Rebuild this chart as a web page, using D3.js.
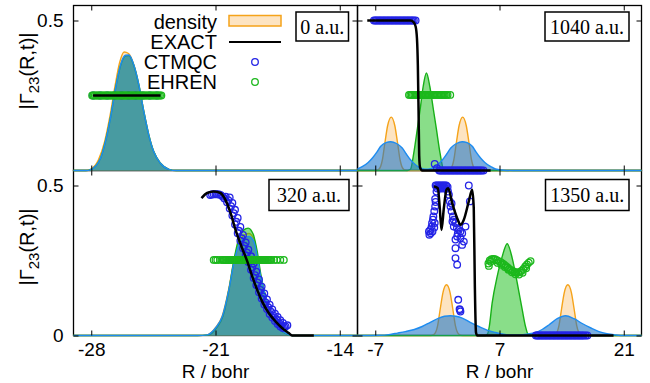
<!DOCTYPE html>
<html><head><meta charset="utf-8">
<script src="https://cdn.jsdelivr.net/npm/d3@7"></script>
<style>body{margin:0;background:#fff}svg{display:block}</style>
</head><body><svg id="c" width="650" height="383"></svg>
<script>
// ---------------- DATA ----------------
const timeLabels = ["0 a.u.", "1040 a.u.", "320 a.u.", "1350 a.u."];
const legendLabels = ["density", "EXACT", "CTMQC", "EHREN"];
const xTicksLeft = [-28, -21, -14];
const xTicksRight = [-7, 7, 21];
const yTicksTop = [0.5];
const yTicksBottom = [0, 0.5];
const xLabel = "R / bohr";

// densities [R, value]
const orange0 = [[-29,0],[-28.3,0],[-28.04,0.004],[-27.6,0.035],[-27.25,0.095],[-26.95,0.18],[-26.65,0.285],[-26.4,0.36],[-26.15,0.395],[-25.9,0.39],[-25.6,0.352],[-25.32,0.286],[-25.04,0.197],[-24.76,0.119],[-24.48,0.063],[-24.1,0.024],[-23.63,0.004],[-23.2,0],[-13,0]];
const green0 = [[-29,0],[-28.3,0],[-28.04,0.003],[-27.48,0.041],[-27.2,0.097],[-26.92,0.175],[-26.63,0.275],[-26.35,0.35],[-26.07,0.382],[-25.88,0.383],[-25.6,0.35],[-25.32,0.285],[-25.04,0.197],[-24.76,0.119],[-24.48,0.063],[-24.1,0.024],[-23.63,0.004],[-23.2,0],[-13,0]];
const blue0 = [[-29,0],[-28.3,0],[-28.04,0.003],[-27.48,0.041],[-27.2,0.097],[-26.92,0.175],[-26.63,0.275],[-26.35,0.352],[-26.07,0.384],[-25.88,0.385],[-25.6,0.352],[-25.32,0.286],[-25.04,0.197],[-24.76,0.119],[-24.48,0.063],[-24.1,0.024],[-23.63,0.004],[-23.2,0],[-13,0]];

const orange320 = [[-29,0],[-22,0],[-21.47,0.002],[-21.0,0.026],[-20.62,0.065],[-20.25,0.156],[-19.97,0.247],[-19.69,0.31],[-19.41,0.334],[-19.12,0.34],[-18.84,0.322],[-18.65,0.27],[-18.46,0.2],[-18.18,0.132],[-17.9,0.076],[-17.52,0.03],[-17.06,0.008],[-16.7,0],[-13,0]];
const green320 = [[-29,0],[-22,0],[-21.4,0.002],[-20.95,0.025],[-20.58,0.065],[-20.22,0.16],[-19.95,0.255],[-19.68,0.325],[-19.4,0.352],[-19.16,0.358],[-18.88,0.338],[-18.65,0.28],[-18.45,0.205],[-18.18,0.13],[-17.9,0.072],[-17.52,0.028],[-17.06,0.007],[-16.7,0],[-13,0]];
const blue320 = [[-29,0],[-22,0],[-21.47,0.002],[-21.0,0.025],[-20.62,0.063],[-20.25,0.152],[-19.97,0.241],[-19.69,0.302],[-19.41,0.325],[-19.12,0.33],[-18.84,0.313],[-18.65,0.263],[-18.46,0.197],[-18.18,0.13],[-17.9,0.075],[-17.52,0.03],[-17.06,0.008],[-16.7,0],[-13,0]];

const orange1040 = [[-9,0],[-7,0],[-6.6,0.004],[-6.2,0.035],[-5.9,0.095],[-5.6,0.15],[-5.2,0.178],[-4.8,0.15],[-4.5,0.095],[-4.2,0.035],[-3.8,0.004],[-3.4,0],[1.05,0],[1.45,0.004],[1.85,0.035],[2.15,0.095],[2.45,0.15],[2.85,0.178],[3.25,0.15],[3.55,0.095],[3.85,0.035],[4.25,0.004],[4.65,0],[23,0]];
const green1040 = [[-9,0],[-3.4,0],[-3.03,0.004],[-2.66,0.058],[-2.27,0.136],[-1.9,0.213],[-1.6,0.28],[-1.23,0.325],[-0.85,0.28],[-0.5,0.213],[-0.1,0.136],[0.3,0.058],[0.7,0.004],[1.1,0],[23,0]];
const blue1040 = [[-9,0.005],[-8.47,0.013],[-7.8,0.027],[-7.34,0.041],[-6.8,0.062],[-6.41,0.08],[-5.8,0.093],[-5.25,0.096],[-4.6,0.09],[-3.96,0.075],[-3.5,0.055],[-3.03,0.036],[-2.5,0.02],[-2.09,0.011],[-1.4,0.004],[-1.05,0.004],[-0.36,0.011],[0.05,0.02],[0.58,0.036],[1.05,0.055],[1.51,0.075],[2.15,0.09],[2.8,0.096],[3.35,0.093],[3.96,0.08],[4.35,0.062],[4.89,0.041],[5.35,0.027],[6.02,0.013],[6.55,0.005],[7.5,0.001],[8.5,0],[23,0]];

const orange1350 = [[-9,0],[-0.77,0],[-0.37,0.004],[0.03,0.033],[0.33,0.09],[0.63,0.143],[1.03,0.169],[1.43,0.143],[1.73,0.09],[2.03,0.033],[2.43,0.004],[2.83,0],[12.9,0],[13.3,0.004],[13.7,0.033],[14.0,0.09],[14.3,0.143],[14.7,0.169],[15.1,0.143],[15.4,0.09],[15.7,0.033],[16.1,0.004],[16.5,0],[23,0]];
const green1350 = [[-9,0],[5.4,0],[5.65,0.005],[5.85,0.03],[6.17,0.108],[6.74,0.197],[7.3,0.263],[7.87,0.306],[8.43,0.258],[9.0,0.175],[9.56,0.086],[9.93,0.03],[10.2,0.005],[10.5,0],[23,0]];
const blue1350 = [[-9,0],[-6.5,0.001],[-5.47,0.003],[-4.5,0.008],[-3.6,0.013],[-2.6,0.02],[-1.71,0.03],[-0.8,0.044],[0.16,0.058],[0.8,0.064],[1.48,0.066],[2.1,0.064],[2.8,0.058],[3.7,0.044],[4.67,0.03],[5.6,0.018],[6.55,0.01],[7.3,0.005],[8.05,0.002],[9.3,0.002],[10.2,0.005],[11.06,0.01],[11.8,0.02],[12.56,0.035],[13.5,0.056],[14.44,0.066],[15.4,0.056],[16.32,0.04],[17.3,0.025],[18.2,0.013],[19.1,0.006],[20.08,0.002],[21,0],[23,0]];

// EXACT |Gamma_23|
const exact0 = [[-27.9,0.25],[-24.1,0.25]];
const exact320 = [[-21.79,0.458],[-21.47,0.475],[-21.1,0.48],[-20.72,0.475],[-20.44,0.452],[-20.15,0.408],[-19.87,0.352],[-19.5,0.291],[-19.21,0.247],[-18.93,0.197],[-18.65,0.152],[-18.37,0.113],[-18.0,0.075],[-17.62,0.047],[-17.25,0.025],[-16.87,0.008],[-16.68,0],[-15.46,0]];
const exact1040 = [[-7.9,0.5],[-3.0,0.5],[-2.7,0.495],[-2.45,0.48],[-2.3,0.44],[-2.2,0.35],[-2.12,0.2],[-2.05,0.05],[-1.95,0.01],[-1.7,0],[6.0,0]];
const exact1350 = [[-0.4,0.497],[0.05,0.491],[0.27,0.425],[0.46,0.352],[0.73,0.425],[1.03,0.486],[1.22,0.491],[1.67,0.441],[2.23,0.391],[2.61,0.369],[2.98,0.386],[3.54,0.447],[3.92,0.486],[4.1,0.425],[4.22,0.169],[4.35,0.01],[4.5,0],[19.85,0]];

// CTMQC trajectories
const ctmqc0 = [[-27.9,0.25],[-27.5,0.25],[-27.1,0.25],[-26.7,0.25],[-26.3,0.25],[-25.9,0.25],[-25.5,0.25],[-25.1,0.25],[-24.7,0.25],[-24.3,0.25]];
const ctmqc320 = [[-21.3,0.468],[-21.2,0.47],[-21.1,0.471],[-21.0,0.471],[-20.9,0.471],[-20.8,0.47],[-20.7,0.468],[-20.6,0.463],[-20.5,0.457],[-20.35,0.444],[-20.2,0.423],[-20.05,0.4],[-19.9,0.37],[-19.75,0.341],[-19.6,0.316],[-19.45,0.291],[-19.3,0.268],[-19.15,0.245],[-19.0,0.219],[-18.85,0.192],[-18.7,0.168],[-18.55,0.144],[-18.4,0.123],[-18.25,0.103],[-18.1,0.088],[-17.95,0.072],[-17.8,0.06],[-17.65,0.048],[-17.5,0.038],[-17.35,0.03],[-17.2,0.025],[-17.05,0.03],[-16.95,0.034],
  [-20.2,0.46],[-20.05,0.442],[-19.9,0.419],[-19.75,0.392],[-19.6,0.362],[-19.45,0.335],[-19.3,0.31],[-19.15,0.286],[-19.0,0.264],[-18.85,0.24],[-18.7,0.213],[-18.55,0.187],[-18.4,0.163],[-18.25,0.14],[-18.1,0.12],[-17.95,0.103],[-17.8,0.087],[-17.65,0.073],[-17.5,0.062],[-17.35,0.051],[-17.2,0.042],
  [-20.425,0.463],[-20.275,0.451],[-20.125,0.431],[-19.975,0.408],[-19.825,0.379],[-19.675,0.349],[-19.525,0.324],[-19.375,0.299],[-19.225,0.276],[-19.075,0.253],[-18.925,0.227],[-18.775,0.201],[-18.625,0.176],[-18.475,0.152],[-18.325,0.13],[-18.175,0.11],[-18.025,0.094],[-17.875,0.079],[-17.725,0.066],[-17.575,0.054],[-17.425,0.043],[-17.275,0.034],[-17.125,0.028]];
const ctmqc1040 = [[-7.15,0.5],[-7.0,0.5],[-6.85,0.5],[-6.7,0.5],[-6.55,0.5],[-6.4,0.5],[-6.25,0.5],[-6.1,0.5],[-5.95,0.5],[-5.8,0.5],[-5.65,0.5],[-5.5,0.5],[-5.35,0.5],[-5.2,0.5],[-5.05,0.5],[-4.9,0.5],[-4.75,0.5],[-4.6,0.5],[-4.45,0.5],[-4.3,0.5],[-4.15,0.5],[-4.0,0.5],[-3.85,0.5],[-3.7,0.5],[-3.55,0.5],[-3.4,0.5],[-3.25,0.5],[-3.1,0.5],[-2.95,0.5],[-2.8,0.5],[-2.65,0.5],[-2.45,0.5],
  [-0.3,0.022],[-0.05,0.008],[0.2,0],[0.35,0],[0.5,0],[0.65,0],[0.8,0],[0.95,0],[1.1,0],[1.25,0],[1.4,0],[1.55,0],[1.7,0],[1.85,0],[2.0,0],[2.15,0],[2.3,0],[2.45,0],[2.6,0],[2.75,0],[2.9,0],[3.05,0],[3.2,0],[3.35,0],[3.5,0],[3.65,0],[3.8,0],[3.95,0],[4.1,0],[4.25,0],[4.4,0],[4.55,0],[4.7,0],[4.85,0],[5.0,0],[5.2,0]];
const ctmqc1350 = [[-0.2,0.5],[-0.05,0.5],[0.1,0.5],[0.25,0.5],[0.4,0.5],[0.55,0.5],[0.7,0.5],[0.85,0.5],[1.0,0.5],[1.15,0.495],[0.0,0.49],[0.3,0.49],[0.6,0.49],[0.9,0.49],[-0.1,0.48],[0.15,0.495],[0.45,0.495],[0.75,0.495],
  [-0.25,0.455],[-0.25,0.43],[-0.35,0.414],[-0.45,0.397],[-0.5,0.386],[-0.6,0.375],[-0.65,0.363],[-0.8,0.352],[-0.95,0.347],[-0.75,0.341],[-0.55,0.347],[-0.35,0.36],[-0.3,0.375],[-0.9,0.336],[-0.2,0.445],
  [1.3,0.469],[1.4,0.447],[1.48,0.43],[1.6,0.414],[1.75,0.397],[1.85,0.386],[2.04,0.375],[1.85,0.363],[2.2,0.358],[2.4,0.352],[2.6,0.347],[2.8,0.341],[2.23,0.33],[2.6,0.325],[2.04,0.32],[2.98,0.313],[2.79,0.302],[2.04,0.291],[2.04,0.258],[2.23,0.236],[3.17,0.363],[3.54,0.5],[3.66,0.447],[1.6,0.44],[1.2,0.48],[1.7,0.38],[2.3,0.34],
  [2.35,0.119],[2.5,0.088],[2.6,0.08],[2.55,0.085],
  [11.1,0],[11.25,0],[11.4,0],[11.55,0],[11.7,0],[11.85,0],[12.0,0],[12.15,0],[12.3,0],[12.45,0],[12.6,0],[12.75,0],[12.9,0],[13.05,0],[13.2,0],[13.35,0],[13.5,0],[13.65,0],[13.8,0],[13.95,0],[14.1,0],[14.25,0],[14.4,0],[14.55,0],[14.7,0],[14.85,0],[15.0,0],[15.15,0],[15.3,0],[15.45,0],[15.6,0],[15.75,0],[15.9,0],[16.05,0],[16.2,0],[16.35,0],[16.5,0],[16.7,0],[16.9,0]];

// Ehrenfest trajectories
const ehren0 = [[-27.95,0.25],[-27.875,0.25],[-27.8,0.25],[-27.725,0.25],[-27.65,0.25],[-27.575,0.25],[-27.5,0.25],[-27.425,0.25],[-27.35,0.25],[-27.275,0.25],[-27.2,0.25],[-27.125,0.25],[-27.05,0.25],[-26.975,0.25],[-26.9,0.25],[-26.825,0.25],[-26.75,0.25],[-26.675,0.25],[-26.6,0.25],[-26.525,0.25],[-26.45,0.25],[-26.375,0.25],[-26.3,0.25],[-26.225,0.25],[-26.15,0.25],[-26.075,0.25],[-26.0,0.25],[-25.925,0.25],[-25.85,0.25],[-25.775,0.25],[-25.7,0.25],[-25.625,0.25],[-25.55,0.25],[-25.475,0.25],[-25.4,0.25],[-25.325,0.25],[-25.25,0.25],[-25.175,0.25],[-25.1,0.25],[-25.025,0.25],[-24.95,0.25],[-24.875,0.25],[-24.8,0.25],[-24.725,0.25],[-24.65,0.25],[-24.575,0.25],[-24.5,0.25],[-24.425,0.25],[-24.35,0.25],[-24.275,0.25],[-24.2,0.25],[-24.125,0.25],[-24.05,0.25]];
const ehren320 = [[-21.1,0.252],[-21.0,0.252],[-20.9,0.252],[-20.75,0.252],[-20.6,0.252],[-20.5,0.252],[-20.4,0.252],[-20.3,0.252],[-20.2,0.252],[-20.1,0.252],[-20.0,0.252],[-19.9,0.252],[-19.8,0.252],[-19.7,0.252],[-19.6,0.252],[-19.5,0.252],[-19.4,0.252],[-19.3,0.252],[-19.2,0.252],[-19.1,0.252],[-19.0,0.252],[-18.9,0.252],[-18.8,0.252],[-18.7,0.252],[-18.6,0.252],[-18.5,0.252],[-18.4,0.252],[-18.3,0.252],[-18.2,0.252],[-18.1,0.252],[-18.0,0.252],[-17.85,0.252],[-17.7,0.252],[-17.55,0.252],[-17.35,0.252],[-17.15,0.252],
  [-20.55,0.252],[-20.45,0.252],[-20.35,0.252],[-20.25,0.252],[-20.15,0.252],[-20.05,0.252],[-19.95,0.252],[-19.85,0.252],[-19.75,0.252],[-19.65,0.252],[-19.55,0.252],[-19.45,0.252],[-19.35,0.252],[-19.25,0.252],[-19.15,0.252],[-19.05,0.252],[-18.95,0.252],[-18.85,0.252],[-18.75,0.252],[-18.65,0.252],[-18.55,0.252],[-18.45,0.252],[-18.35,0.252],[-18.25,0.252],[-18.15,0.252],[-18.05,0.252],[-17.95,0.252]];
const ehren1040 = [[-3.2,0.252],[-3.05,0.252],[-2.9,0.252],[-2.75,0.252],[-2.6,0.252],[-2.45,0.252],[-2.3,0.252],[-2.15,0.252],[-2.0,0.252],[-1.85,0.252],[-1.7,0.252],[-1.55,0.252],[-1.4,0.252],[-1.25,0.252],[-1.1,0.252],[-0.95,0.252],[-0.8,0.252],[-0.65,0.252],[-0.5,0.252],[-0.35,0.252],[-0.2,0.252],[-0.05,0.252],[0.1,0.252],[0.25,0.252],[0.4,0.252],[0.55,0.252],[0.7,0.252],[0.85,0.252],[1.0,0.252],[1.15,0.252],[1.45,0.252]];
const ehren1350 = [[5.75,0.24],[5.9,0.25],[6.1,0.254],[6.3,0.255],[6.5,0.254],[6.7,0.251],[6.9,0.248],[7.1,0.245],[7.3,0.241],[7.5,0.237],[7.7,0.232],[7.9,0.227],[8.1,0.222],[8.3,0.218],[8.5,0.215],[8.7,0.212],[8.9,0.21],[9.1,0.21],[9.3,0.212],[9.5,0.216],[9.7,0.222],[9.9,0.23],[10.1,0.237],[10.3,0.243],[10.5,0.248],
  [5.8,0.232],[6.0,0.246],[6.8,0.242],[7.2,0.236],[7.6,0.228],[8.0,0.219],[8.4,0.211],[8.8,0.204],[9.2,0.203],[9.6,0.209],[10.0,0.224]];

// ---------------- LAYOUT ----------------
const svg = d3.select("#c");
const SANS = "'Liberation Sans', Arial, Helvetica, sans-serif";
const SERIF = "'Liberation Serif', 'Times New Roman', serif";
const C = {
  oFill: "#fde4c2", oStroke: "#f5a31a",
  gFill: "rgba(20,190,20,0.5)", gStroke: "#17b017",
  bFill: "rgba(25,115,200,0.58)", bStroke: "#1e8cf0",
  ctmqc: "#2424e6", ehren: "#1cb81c"
};
const xL = d3.scaleLinear().domain([-29, -13]).range([73.5, 357.5]);
const xR = d3.scaleLinear().domain([-9, 23]).range([357.5, 641.5]);
const yT = d3.scaleLinear().domain([0, 0.55]).range([170.5, 5.5]);
const yB = d3.scaleLinear().domain([0, 0.55]).range([335.5, 170.5]);

const panels = [
  {x: xL, y: yT, ticks: xTicksLeft, yt: yTicksTop, lab: timeLabels[0], box: [296, 12, 52.5, 29], leftLabels: true, bottomLabels: false,
   dens: [orange0, green0, blue0], exact: exact0, ctmqc: ctmqc0, ehren: ehren0},
  {x: xR, y: yT, ticks: xTicksRight, yt: yTicksTop, lab: timeLabels[1], box: [545, 12, 84, 29], leftLabels: false, bottomLabels: false,
   dens: [orange1040, green1040, blue1040], exact: exact1040, ctmqc: ctmqc1040, ehren: ehren1040},
  {x: xL, y: yB, ticks: xTicksLeft, yt: yTicksBottom, lab: timeLabels[2], box: [269, 179.5, 80, 31], leftLabels: true, bottomLabels: true,
   dens: [orange320, green320, blue320], exact: exact320, ctmqc: ctmqc320, ehren: ehren320},
  {x: xR, y: yB, ticks: xTicksRight, yt: yTicksBottom, lab: timeLabels[3], box: [545.5, 179.5, 83.5, 31], leftLabels: false, bottomLabels: true,
   dens: [orange1350, green1350, blue1350], exact: exact1350, ctmqc: ctmqc1350, ehren: ehren1350}
];

// borders first
panels.forEach(p => {
  const [x0, x1] = p.x.range(), [y1, y0] = p.y.range();
  svg.append("rect").attr("x", x0).attr("y", y0).attr("width", x1 - x0).attr("height", y1 - y0)
    .attr("fill", "none").attr("stroke", "#000").attr("stroke-width", 1.3);
});

// content
panels.forEach(p => {
  const g = svg.append("g");
  const x = p.x, y = p.y;
  const area = d3.area().curve(d3.curveMonotoneX).x(d => x(d[0])).y0(y(0)).y1(d => y(d[1]));
  const line = d3.line().curve(d3.curveMonotoneX).x(d => x(d[0])).y(d => y(d[1]));
  const styles = [[C.oFill, C.oStroke], [C.gFill, C.gStroke], [C.bFill, C.bStroke]];
  p.dens.forEach((d, i) => {
    g.append("path").attr("d", area(d)).attr("fill", styles[i][0]);
    g.append("path").attr("d", line(d)).attr("fill", "none").attr("stroke", styles[i][1]).attr("stroke-width", 1.4);
  });
  g.selectAll(".ct").data(p.ctmqc).join("circle").attr("class", "ct")
    .attr("cx", d => x(d[0])).attr("cy", d => y(d[1])).attr("r", 3.3)
    .attr("fill", "none").attr("stroke", C.ctmqc).attr("stroke-width", 1.3);
  g.selectAll(".eh").data(p.ehren).join("circle").attr("class", "eh")
    .attr("cx", d => x(d[0])).attr("cy", d => y(d[1])).attr("r", 3.3)
    .attr("fill", "none").attr("stroke", C.ehren).attr("stroke-width", 1.3);
  g.append("path").attr("d", line(p.exact)).attr("fill", "none").attr("stroke", "#000").attr("stroke-width", 2.5);
});

// ticks and labels
panels.forEach(p => {
  const x = p.x, y = p.y;
  const [x0, x1] = x.range(), [y1, y0] = y.range();
  const fmtX = p.bottomLabels ? (d => String(d)) : (() => "");
  const ab = svg.append("g").attr("transform", `translate(0,${y1})`)
    .call(d3.axisBottom(x).tickValues(p.ticks).tickSize(-5).tickPadding(7).tickFormat(fmtX));
  const at = svg.append("g").attr("transform", `translate(0,${y0})`)
    .call(d3.axisTop(x).tickValues(p.ticks).tickSize(-5).tickFormat(() => ""));
  const fmtY = p.leftLabels ? (d => d === 0 ? "0" : String(d)) : (() => "");
  const al = svg.append("g").attr("transform", `translate(${x0},0)`)
    .call(d3.axisLeft(y).tickValues(p.yt).tickSize(-5).tickPadding(10).tickFormat(fmtY));
  const ar = svg.append("g").attr("transform", `translate(${x1},0)`)
    .call(d3.axisRight(y).tickValues(p.yt).tickSize(-5).tickFormat(() => ""));
  [ab, at, al, ar].forEach(a => {
    a.select(".domain").remove();
    a.selectAll("line").attr("stroke", "#000").attr("stroke-width", 1);
    a.selectAll("text").attr("font-family", SANS).attr("font-size", 19).attr("fill", "#000");
  });
  // time label box
  svg.append("rect").attr("x", p.box[0]).attr("y", p.box[1]).attr("width", p.box[2]).attr("height", p.box[3])
    .attr("fill", "#fff").attr("stroke", "#000").attr("stroke-width", 1.5);
  svg.append("text").attr("x", p.box[0] + p.box[2] / 2).attr("y", p.box[1] + p.box[3] / 2 + 7)
    .attr("text-anchor", "middle").attr("font-family", SERIF).attr("font-size", 20).text(p.lab);
  if (p.bottomLabels) {
    svg.append("text").attr("x", (x0 + x1) / 2).attr("y", 378).attr("text-anchor", "middle")
      .attr("font-family", SANS).attr("font-size", 19).text(xLabel);
  }
  if (p.leftLabels) {
    const cy = p.y === yT ? 71 : 247;
    const t = svg.append("text").attr("transform", `translate(34,${cy}) rotate(-90)`)
      .attr("text-anchor", "middle").attr("font-family", SANS).attr("font-size", 20);
    t.append("tspan").text("|Γ");
    t.append("tspan").attr("font-size", 15).attr("dy", 5).text("23");
    t.append("tspan").attr("dy", -5).text("(R,t)|");
  }
});

// legend (top-left panel)
const lg = svg.append("g");
const rowY = [22, 42, 62, 82];
legendLabels.forEach((s, i) => {
  lg.append("text").attr("x", 217).attr("y", rowY[i] + 7).attr("text-anchor", "end")
    .attr("font-family", SANS).attr("font-size", 20).text(s);
});
lg.append("rect").attr("x", 229).attr("y", 15.5).attr("width", 52).attr("height", 10.5)
  .attr("fill", C.oFill).attr("stroke", C.oStroke).attr("stroke-width", 1.5);
lg.append("line").attr("x1", 229).attr("x2", 281).attr("y1", rowY[1]).attr("y2", rowY[1]).attr("stroke", "#000").attr("stroke-width", 2);
lg.append("circle").attr("cx", 255).attr("cy", rowY[2]).attr("r", 3.3).attr("fill", "none").attr("stroke", C.ctmqc).attr("stroke-width", 1.3);
lg.append("circle").attr("cx", 255).attr("cy", rowY[3]).attr("r", 3.3).attr("fill", "none").attr("stroke", C.ehren).attr("stroke-width", 1.3);
</script>
</body></html>
